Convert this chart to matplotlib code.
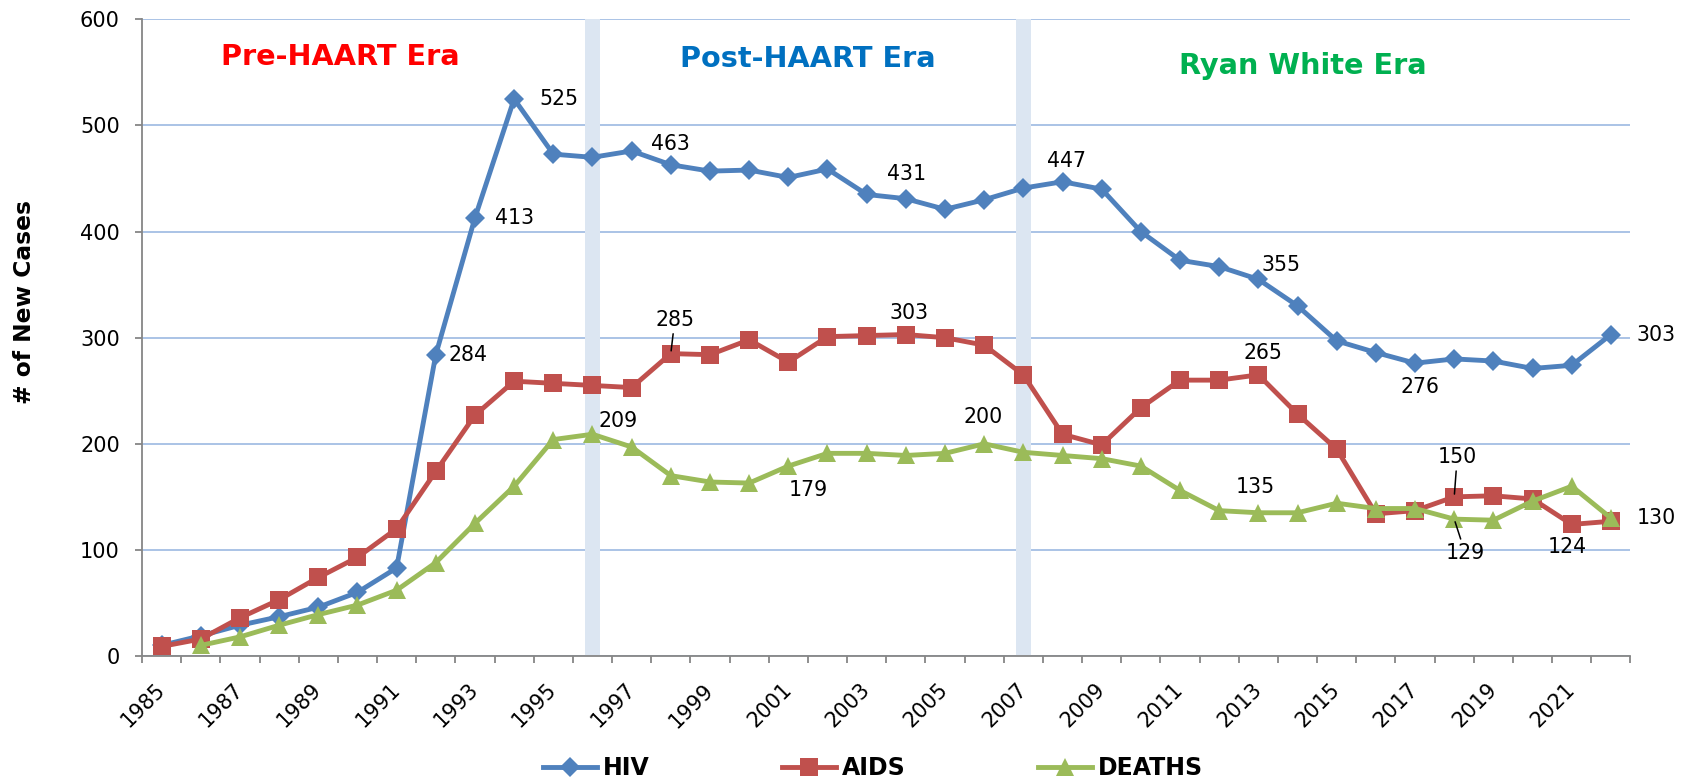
import numpy as np
import matplotlib
matplotlib.use("Agg")
import matplotlib.pyplot as plt

# ---------------- data ----------------
years = list(range(1985, 2023))
hiv = [10, 19, 29, 37, 46, 60, 83, 284, 413, 525, 473, 470, 476, 463, 457, 458,
       451, 459, 435, 431, 421, 430, 441, 447, 440, 400, 373, 367, 355, 330,
       297, 286, 276, 280, 278, 271, 274, 303]
aids = [9, 16, 36, 53, 74, 93, 120, 174, 227, 259, 257, 255, 253, 285, 284, 298,
        277, 301, 302, 303, 300, 293, 265, 209, 199, 234, 260, 260, 265, 228,
        195, 134, 137, 150, 151, 148, 124, 127]
deaths = [np.nan, 10, 18, 29, 39, 48, 62, 88, 125, 160, 204, 209, 197, 170, 164,
          163, 179, 191, 191, 189, 191, 200, 192, 189, 186, 179, 156, 137, 135,
          135, 144, 139, 139, 129, 128, 146, 160, 130]

series_names = ["HIV", "AIDS", "DEATHS"]
era_boundary_years = [1996, 2007]
era_names = ["Pre-HAART Era", "Post-HAART Era", "Ryan White Era"]
y_ticks = [0, 100, 200, 300, 400, 500, 600]
x_tick_years = years[::2]

# labelled points: (series, year)
labelled = [("HIV", 1992), ("HIV", 1993), ("HIV", 1994), ("HIV", 1998),
            ("HIV", 2004), ("HIV", 2008), ("HIV", 2013), ("HIV", 2017),
            ("HIV", 2022),
            ("AIDS", 1998), ("AIDS", 2004), ("AIDS", 2013), ("AIDS", 2018),
            ("AIDS", 2021),
            ("DEATHS", 1996), ("DEATHS", 2001), ("DEATHS", 2006),
            ("DEATHS", 2013), ("DEATHS", 2018), ("DEATHS", 2022)]

# ---------------- styles ----------------
colors = {"HIV": "#4F81BD", "AIDS": "#C0504D", "DEATHS": "#9BBB59"}
markers = {"HIV": ("D", 10.5), "AIDS": ("s", 12.5), "DEATHS": ("^", 13.5)}
era_colors = ["#FF0000", "#0070C0", "#00B050"]
# label offsets in pixels (dx right, dy up) and leader-line flag
label_offsets = [(32, 0, False), (40, 0, False), (45, 0, False), (0, 21, False),
                 (1, 25, False), (4, 21, False), (23, 14, False), (5, -24, False),
                 (45, 0, False),
                 (4, 34, True), (3, 22, False), (5, 22, False), (3, 40, True),
                 (-4, -23, False),
                 (26, 13, False), (20, -24, False), (-1, 27, False),
                 (-3, 26, False), (11, -34, True), (45, 0, False)]

PX = 72 / 100.0  # points per pixel at dpi 100
W, H = 1690, 783
plt.rcParams["font.family"] = ["DejaVu Sans"]

fig = plt.figure(figsize=(W / 100, H / 100), dpi=100)
ax = fig.add_axes([142 / W, 1 - 656 / H, 1488.5 / W, (656 - 19.4) / H])

data = {"HIV": hiv, "AIDS": aids, "DEATHS": deaths}

# era separator bands
ax.bar(era_boundary_years, [y_ticks[-1]] * len(era_boundary_years), width=0.39,
       color="#DCE6F2", zorder=1)

lines = []
for i, name in enumerate(series_names):
    m, ms = markers[name]
    ln, = ax.plot(years, data[name], color=colors[name], lw=3.5, marker=m,
                  markersize=ms, markeredgewidth=0, zorder=3 + i, label=name,
                  solid_joinstyle="miter")
    lines.append(ln)

# data labels
for (name, yr), (dx, dy, leader) in zip(labelled, label_offsets):
    v = data[name][years.index(yr)]
    kw = {}
    if leader:
        kw["arrowprops"] = dict(arrowstyle="-", color="black", lw=1.1,
                                shrinkA=1, shrinkB=2)
    ax.annotate(f"{int(v)}", xy=(yr, v), xytext=(dx * PX, dy * PX),
                textcoords="offset points", ha="center", va="center",
                fontsize=14.8, color="black", zorder=10, **kw)

# era titles
era_x = [1989.55, 2001.5, 2014.14]
era_y = [557, 555.4, 548.5]
for name, c, x, y in zip(era_names, era_colors, era_x, era_y):
    ax.text(x, y, name, color=c, fontsize=20.7, fontweight="bold",
            ha="center", va="baseline", zorder=12)

# axes
ax.set_xlim(years[0] - 0.5, years[-1] + 0.5)
ax.set_ylim(y_ticks[0], y_ticks[-1])
ax.set_yticks(y_ticks)
ax.set_yticklabels([str(t) for t in y_ticks], fontsize=15)
ax.set_xticks(x_tick_years)
ax.set_xticklabels([str(y) for y in x_tick_years], fontsize=15)
ax.set_xticks(np.arange(years[0] - 0.5, years[-1] + 1.0, 1.0), minor=True)
ax.tick_params(axis="x", which="major", length=0, pad=22)
ax.tick_params(axis="x", which="minor", length=5, width=1.3, color="#868686",
               direction="out")
ax.tick_params(axis="y", which="major", length=5, width=1.3, color="#868686",
               direction="out", pad=11)
plt.setp(ax.get_xticklabels(), rotation=45, ha="right", va="center",
         rotation_mode="anchor")

ax.grid(axis="y", color="#A4BEE4", lw=1.3, zorder=0)
ax.set_axisbelow(True)
for s in ["top", "right"]:
    ax.spines[s].set_visible(False)
for s in ["left", "bottom"]:
    ax.spines[s].set_color("#868686")
    ax.spines[s].set_linewidth(1.3)
    ax.spines[s].set_zorder(2.5)

fig.text(25 / W, 1 - 302 / H, "# of New Cases", rotation=90, ha="center",
         va="center", fontsize=16.8, fontweight="bold")

leg = fig.legend(handles=lines, labels=series_names, loc="center",
                 bbox_to_anchor=(873 / W, 1 - 768 / H), ncol=3, frameon=False,
                 prop={"size": 17, "weight": "bold"}, handlelength=2.3,
                 handletextpad=0.25, columnspacing=5.6, borderpad=0,
                 borderaxespad=0)

fig.savefig("out.png", dpi=100)
